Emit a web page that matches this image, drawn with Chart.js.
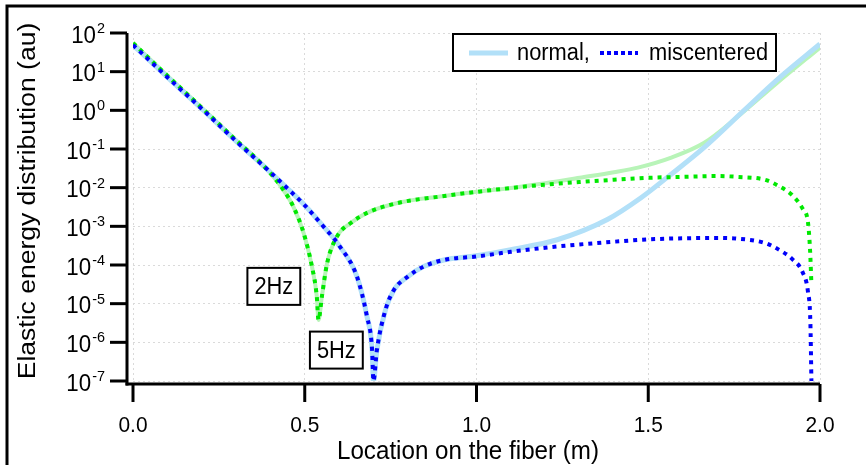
<!DOCTYPE html>
<html>
<head>
<meta charset="utf-8">
<script src="https://cdn.jsdelivr.net/npm/chart.js@4.4.1/dist/chart.umd.min.js"></script>
<style>
  html, body { margin: 0; padding: 0; background: #fff; }
  #wrap { position: relative; width: 866px; height: 465px; }
</style>
</head>
<body>
<div id="wrap"><canvas id="fiberChart"></canvas></div>
<script>
// 5 Hz, miscentered fiber
const mis5X = [0, 0.1, 0.2, 0.3, 0.4, 0.45, 0.5, 0.55, 0.6, 0.652, 0.681, 0.696, 0.70, 0.71, 0.735, 0.76, 0.80, 0.846, 0.905, 1.0,
  1.1, 1.2, 1.3, 1.4, 1.5, 1.6, 1.7, 1.76, 1.84, 1.88, 1.92, 1.95, 1.965, 1.972, 1.975];
const mis5Y = [49, 7.2, 1.1, 0.16, 2.5e-2, 9.5e-3, 3.5e-3, 1.1e-3, 3.2e-4, 5.0e-5, 4.7e-6, 6.5e-7, 1e-7, 6.3e-7, 6.9e-6, 2.3e-5, 5.0e-5, 9.1e-5, 1.35e-4, 1.66e-4,
  2.2e-4, 2.8e-4, 3.4e-4, 4.0e-4, 4.6e-4, 4.9e-4, 5.0e-4, 4.8e-4, 3.7e-4, 2.5e-4, 1.4e-4, 6.3e-5, 2.0e-5, 3.2e-6, 1e-7];

// 2 Hz, miscentered fiber
const mis2X = [0, 0.1, 0.2, 0.3, 0.38, 0.438, 0.467, 0.497, 0.521, 0.535, 0.540, 0.550, 0.565, 0.594, 0.633, 0.68, 0.77, 0.9, 1.0, 1.1,
  1.2, 1.3, 1.4, 1.5, 1.6, 1.7, 1.76, 1.84, 1.88, 1.92, 1.95, 1.965, 1.971, 1.975];
const mis2Y = [55, 7.9, 1.17, 0.17, 3.7e-2, 8.7e-3, 3.2e-3, 6.6e-4, 9.1e-5, 1.55e-5, 3.8e-6, 1.55e-5, 1.1e-4, 5.5e-4, 1.2e-3, 2.2e-3, 4.0e-3, 6.0e-3, 7.8e-3, 9.8e-3,
  1.2e-2, 1.4e-2, 1.6e-2, 1.8e-2, 1.9e-2, 2.0e-2, 1.9e-2, 1.6e-2, 1.1e-2, 6.3e-3, 2.8e-3, 1.26e-3, 2.5e-4, 3.2e-5];

// normal fibers follow the miscentered ones, then rise towards the far end
const norm5TailX = [1.0, 1.1, 1.235, 1.381, 1.478, 1.557, 1.663, 1.78, 1.884, 2.0];
const norm5TailY = [1.74e-4, 2.5e-4, 4.5e-4, 1.5e-3, 5.4e-3, 1.9e-2, 0.11, 1.02, 7.2, 52];
const norm2TailX = [1.2, 1.3, 1.4, 1.47, 1.565, 1.663, 1.76, 1.875, 2.0];
const norm2TailY = [1.3e-2, 1.8e-2, 2.5e-2, 3.3e-2, 5.9e-2, 0.145, 0.68, 5.1, 42];

const yTickExps = [2, 1, 0, -1, -2, -3, -4, -5, -6, -7];
const xTickValues = [0, 0.5, 1.0, 1.5, 2.0];
const xTickLabels = ["0.0", "0.5", "1.0", "1.5", "2.0"];
const legendLabels = ["normal,", "miscentered"];
const freqLabels = ["2Hz", "5Hz"];
const freqAnchorX = [0.41, 0.592];
const freqAnchorY = [2.8e-5, 6.3e-7];

const BLUE = "rgb(0,0,250)";
const GREEN = "rgb(0,232,0)";
const LIGHT_BLUE = "rgb(178,224,248)";
const LIGHT_GREEN = "rgb(184,244,184)";
const FONT = "'Liberation Sans', Arial, sans-serif";
const SQUEEZE = 0.93; // glyphs are a little narrower than regular Arial

function pts(xs, ys) {
  return xs.map((x, i) => ({ x: x, y: ys[i] }));
}

// text drawn slightly condensed; returns drawn width
function label(c, text, x, y, size, align, baseline) {
  c.save();
  c.font = size + "px " + FONT;
  c.textAlign = align;
  c.textBaseline = baseline;
  c.translate(x, y);
  c.scale(SQUEEZE, 1);
  c.fillText(text, 0, 0);
  const w = c.measureText(text).width * SQUEEZE;
  c.restore();
  return w;
}

function textWidth(c, text, size) {
  c.save();
  c.font = size + "px " + FONT;
  const w = c.measureText(text).width * SQUEEZE;
  c.restore();
  return w;
}

const norm5 = pts(mis5X.filter(x => x < 1.0), mis5Y).concat(pts(norm5TailX, norm5TailY));
const norm2 = pts(mis2X.filter(x => x < 1.2), mis2Y).concat(pts(norm2TailX, norm2TailY));

// axes, tick labels, titles, legend and frequency boxes
const decorPlugin = {
  id: "decor",
  afterDraw(chart) {
    const c = chart.ctx;
    const xs = chart.scales.x, ys = chart.scales.y;
    const area = chart.chartArea;
    const axisX = area.left - 6;
    const axisY = area.bottom + 3;
    c.save();
    c.strokeStyle = "#000";
    c.fillStyle = "#000";

    // outer frame
    c.lineWidth = 3;
    c.beginPath();
    c.moveTo(7, 465);
    c.lineTo(7, 6);
    c.lineTo(866, 6);
    c.stroke();

    // y axis with decade ticks
    c.beginPath();
    c.moveTo(axisX, area.top);
    c.lineTo(axisX, axisY + 1.5);
    c.stroke();
    yTickExps.forEach(e => {
      const py = ys.getPixelForValue(Math.pow(10, e));
      c.beginPath();
      c.moveTo(axisX - 17, py);
      c.lineTo(axisX, py);
      c.stroke();
      const expText = String(e);
      const right = axisX - 22;
      const ew = label(c, expText, right, py, 15.5, "right", "alphabetic");
      label(c, "10", right - ew - 1, py + 3, 24, "right", "middle");
    });

    // x axis with ticks
    c.beginPath();
    c.moveTo(axisX - 1.5, axisY);
    c.lineTo(area.right, axisY);
    c.stroke();
    xTickValues.forEach((v, i) => {
      const px = xs.getPixelForValue(v);
      c.beginPath();
      c.moveTo(px, axisY);
      c.lineTo(px, axisY + 18);
      c.stroke();
      label(c, xTickLabels[i], px, 426, 22.5, "center", "middle");
    });

    // axis titles
    label(c, "Location on the fiber (m)", 468, 459, 26, "center", "alphabetic");
    c.save();
    c.translate(35, 201);
    c.rotate(-Math.PI / 2);
    c.scale(1, SQUEEZE);
    c.font = "26.5px " + FONT;
    c.textAlign = "center";
    c.textBaseline = "alphabetic";
    c.fillText("Elastic energy distribution (au)", 0, 0);
    c.restore();

    // legend
    c.lineWidth = 2;
    c.fillStyle = "#fff";
    c.fillRect(453, 34, 323, 37);
    c.strokeRect(453, 34, 323, 37);
    c.lineWidth = 5;
    c.strokeStyle = LIGHT_BLUE;
    c.beginPath();
    c.moveTo(469, 53);
    c.lineTo(508, 53);
    c.stroke();
    c.lineWidth = 4;
    c.strokeStyle = BLUE;
    c.setLineDash([4, 3]);
    c.beginPath();
    c.moveTo(600, 53);
    c.lineTo(638, 53);
    c.stroke();
    c.setLineDash([]);
    c.fillStyle = "#000";
    label(c, legendLabels[0], 517, 54, 23.5, "left", "middle");
    label(c, legendLabels[1], 649, 54, 23.5, "left", "middle");

    // frequency boxes
    c.strokeStyle = "#000";
    c.lineWidth = 2;
    freqLabels.forEach((t, i) => {
      const cx = xs.getPixelForValue(freqAnchorX[i]);
      const cy = ys.getPixelForValue(freqAnchorY[i]);
      const w = textWidth(c, t, 23.5) + 14;
      const h = 37;
      c.fillStyle = "#fff";
      c.fillRect(cx - w / 2, cy - h / 2, w, h);
      c.strokeRect(cx - w / 2, cy - h / 2, w, h);
      c.fillStyle = "#000";
      label(c, t, cx, cy + 1, 23.5, "center", "middle");
    });
    c.restore();
  }
};

const gridOpts = { color: "rgb(218,218,218)", lineWidth: 1, drawTicks: false };

new Chart(document.getElementById("fiberChart"), {
  type: "line",
  data: {
    datasets: [
      { label: "5Hz miscentered", data: pts(mis5X, mis5Y), borderColor: BLUE, borderWidth: 4, borderDash: [4, 5] },
      { label: "2Hz miscentered", data: pts(mis2X, mis2Y), borderColor: GREEN, borderWidth: 4, borderDash: [4, 5] },
      { label: "5Hz normal", data: norm5, borderColor: LIGHT_BLUE, borderWidth: 5 },
      { label: "2Hz normal", data: norm2, borderColor: LIGHT_GREEN, borderWidth: 4 }
    ]
  },
  options: {
    responsive: true,
    maintainAspectRatio: false,
    animation: false,
    parsing: false,
    layout: { padding: { left: 133, right: 46, top: 33, bottom: 84 } },
    elements: {
      point: { radius: 0, hoverRadius: 0 },
      line: { cubicInterpolationMode: "monotone", borderCapStyle: "butt", fill: false }
    },
    plugins: { legend: { display: false }, tooltip: { enabled: false } },
    scales: {
      x: {
        type: "linear", min: 0, max: 2,
        ticks: { display: false, stepSize: 0.5 },
        grid: gridOpts,
        border: { display: false, dash: [2, 3] },
        afterFit: s => { s.height = 0; }
      },
      y: {
        type: "logarithmic", min: 1e-7, max: 1e2,
        ticks: { display: false },
        grid: gridOpts,
        border: { display: false, dash: [2, 3] },
        afterBuildTicks: s => { s.ticks = yTickExps.map(e => ({ value: Math.pow(10, e) })); },
        afterFit: s => { s.width = 0; }
      }
    }
  },
  plugins: [decorPlugin]
});
</script>
</body>
</html>
